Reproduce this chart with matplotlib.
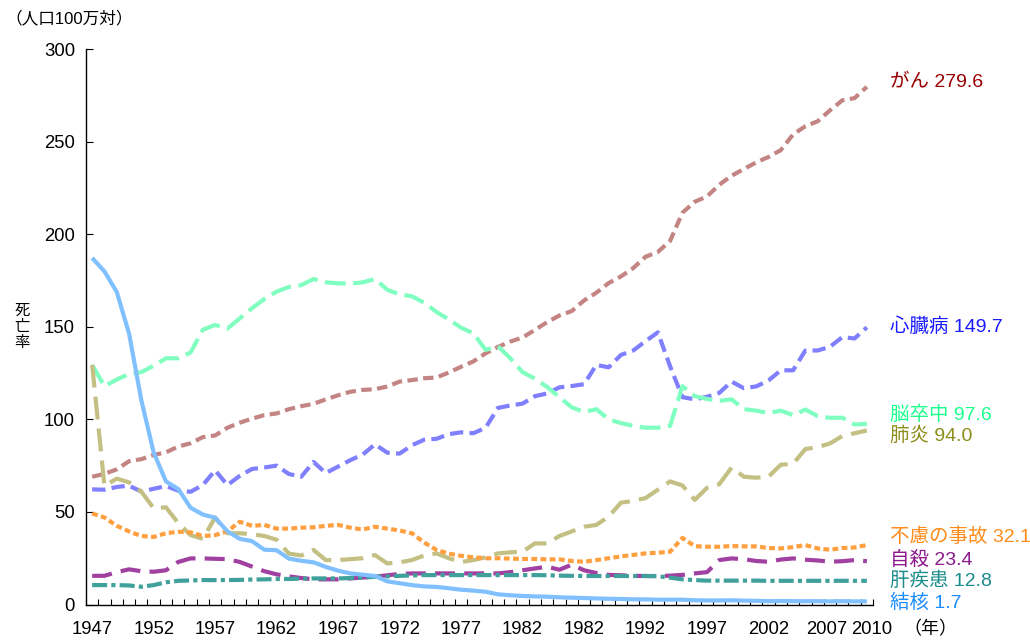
import matplotlib
matplotlib.use('Agg')
import matplotlib.pyplot as plt
from matplotlib.ticker import FixedLocator, MultipleLocator
from matplotlib.transforms import ScaledTranslation

plt.rcParams['font.family'] = ['Liberation Sans', 'Noto Sans CJK JP', 'DejaVu Sans']

years = list(range(1947, 2011))

# 死因別死亡率（人口100万対）
cancer = [69.0, 70.6, 73.0, 77.4, 78.5, 80.8, 82.2, 85.3, 87.1, 90.4,
          91.3, 95.5, 98.2, 100.4, 102.3, 103.2, 105.5, 107.1, 108.4, 110.8,
          113.0, 114.9, 115.9, 116.3, 117.7, 120.4, 121.2, 122.2, 122.6, 125.3,
          128.4, 131.3, 135.7, 139.1, 142.0, 144.2, 148.3, 152.5, 156.1, 158.5,
          164.2, 168.4, 173.6, 177.2, 181.7, 187.8, 190.4, 196.4, 211.6, 217.5,
          220.4, 226.7, 231.6, 235.2, 238.8, 241.7, 245.4, 253.9, 258.3, 261.0,
          266.9, 272.3, 273.5, 279.6]
heart = [62.2, 62.0, 63.5, 64.2, 61.0, 62.5, 64.0, 61.5, 60.9, 64.5,
         72.5, 64.5, 69.5, 73.2, 74.0, 75.0, 70.5, 69.0, 77.0, 71.0,
         74.5, 78.0, 81.0, 86.5, 82.0, 81.5, 86.0, 89.0, 89.5, 92.0,
         93.0, 92.5, 95.5, 106.2, 107.5, 108.5, 112.5, 114.0, 117.3, 118.0,
         119.0, 129.4, 128.1, 134.8, 137.2, 142.2, 147.0, 128.6, 112.0, 110.8,
         112.2, 114.3, 120.4, 116.8, 117.8, 121.0, 126.5, 126.5, 137.2, 137.2,
         139.2, 144.4, 143.7, 149.7]
stroke = [129.4, 117.9, 121.5, 124.5, 125.5, 129.0, 133.0, 133.0, 136.1, 148.4,
          151.0, 149.0, 154.5, 160.0, 165.0, 169.0, 171.5, 172.5, 175.8, 174.0,
          173.5, 173.3, 174.0, 175.8, 170.0, 167.5, 166.5, 163.0, 158.0, 154.0,
          149.5, 146.5, 137.5, 139.5, 133.0, 125.5, 122.0, 117.5, 112.0, 106.5,
          104.0, 105.5, 100.0, 98.0, 96.5, 95.5, 95.5, 96.5, 117.9, 112.6,
          111.0, 110.0, 110.8, 105.5, 104.7, 103.4, 104.7, 102.3, 105.3, 101.7,
          100.8, 100.9, 97.2, 97.6]
pneumonia = [129.5, 64.0, 68.0, 66.0, 61.0, 52.0, 52.5, 44.0, 37.5, 35.5,
             47.0, 38.5, 38.5, 38.0, 37.0, 35.0, 27.5, 26.5, 29.5, 24.0,
             24.0, 24.5, 25.0, 26.7, 22.2, 22.8, 24.0, 26.5, 27.6, 25.0,
             23.0, 24.0, 25.5, 27.6, 28.2, 28.5, 33.0, 33.0, 37.0, 39.5,
             42.0, 43.0, 47.5, 55.0, 56.0, 57.5, 62.0, 66.5, 64.3, 56.5,
             63.0, 65.0, 74.0, 69.0, 68.5, 69.0, 75.5, 76.0, 84.0, 85.0,
             87.0, 91.0, 92.5, 94.0]
accident = [49.2, 47.0, 42.5, 39.5, 37.0, 36.5, 38.5, 39.3, 39.0, 37.0,
            37.5, 39.5, 44.7, 42.5, 43.0, 41.0, 41.0, 41.5, 41.7, 42.5,
            43.0, 41.5, 40.5, 42.0, 41.0, 40.0, 38.5, 33.5, 29.5, 27.5,
            26.3, 25.5, 25.0, 25.0, 24.8, 24.6, 24.6, 24.4, 24.4, 23.5,
            23.1, 24.0, 25.0, 26.0, 26.8, 27.6, 28.0, 28.5, 36.0, 31.5,
            31.2, 31.2, 31.6, 31.4, 31.4, 30.5, 30.3, 31.0, 32.1, 30.3,
            29.6, 30.5, 30.8, 32.1]
suicide = [15.5, 15.5, 17.5, 19.0, 18.0, 17.7, 18.5, 23.0, 24.9, 24.9,
           24.7, 24.5, 23.0, 20.5, 18.0, 16.3, 15.2, 14.3, 13.6, 13.6,
           13.6, 14.1, 14.6, 15.0, 15.8, 16.5, 16.8, 16.8, 16.8, 16.8,
           16.8, 16.8, 16.8, 16.8, 17.5, 18.5, 19.5, 20.4, 18.8, 21.5,
           18.5, 17.0, 16.0, 15.8, 15.5, 15.4, 15.4, 15.6, 16.0, 16.8,
           17.5, 24.0, 24.9, 24.5, 23.5, 23.1, 24.3, 24.9, 24.2, 23.8,
           23.1, 23.4, 24.0, 23.4]
liver = [10.5, 10.5, 10.5, 10.3, 9.6, 10.5, 12.0, 12.8, 13.0, 13.2,
         13.2, 13.2, 13.3, 13.5, 13.6, 13.8, 13.8, 14.0, 14.1, 14.1,
         14.1, 14.3, 14.5, 15.0, 15.2, 15.5, 15.7, 15.9, 15.9, 15.9,
         15.9, 15.9, 15.9, 15.9, 15.9, 15.9, 15.9, 15.8, 15.6, 15.5,
         15.4, 15.4, 15.4, 15.4, 15.4, 15.4, 15.3, 14.5, 13.6, 13.2,
         12.9, 12.9, 12.9, 12.9, 12.9, 12.8, 12.8, 12.8, 12.8, 12.8,
         12.8, 12.8, 12.8, 12.8]
tb = [187.2, 179.9, 168.8, 146.4, 110.3, 82.2, 66.5, 62.4, 52.3, 48.6,
      46.9, 39.5, 35.5, 34.2, 29.6, 29.3, 24.8, 23.6, 22.8, 20.3,
      18.3, 16.8, 16.1, 15.4, 12.5, 11.5, 10.5, 9.8, 9.5, 8.8,
      8.0, 7.5, 6.9, 5.5, 5.0, 4.6, 4.4, 4.2, 3.9, 3.7,
      3.5, 3.3, 3.1, 3.0, 2.8, 2.8, 2.6, 2.6, 2.6, 2.3,
      2.2, 2.2, 2.3, 2.1, 2.0, 1.8, 1.9, 1.8, 1.8, 1.8,
      1.7, 1.8, 1.7, 1.7]

names = ['がん', '心臓病', '脳卒中', '肺炎', '不慮の事故', '自殺', '肝疾患', '結核']
end_values = ['279.6', '149.7', '97.6', '94.0', '32.1', '23.4', '12.8', '1.7']

# 1987の位置のラベルは元図どおり「1982」
tick_years = [1947, 1952, 1957, 1962, 1967, 1972, 1977, 1982, 1987, 1992, 1997, 2002, 2007, 2010]
tick_labels = ['1947', '1952', '1957', '1962', '1967', '1972', '1977', '1982', '1982', '1992',
               '1997', '2002', '2007', '2010']

series = [cancer, heart, stroke, pneumonia, accident, suicide, liver, tb]
line_colors = ['#c48484', '#8080ff', '#80ffc0', '#c4c084', '#ffa040', '#a040a0', '#40a09c', '#80c0ff']
text_colors = ['#990000', '#1a1aff', '#1aff8c', '#8c8c1a', '#ff8c1a', '#8c1a8c', '#1a8c8c', '#1a8cff']
dash_styles = [(2.5, 1.3), (3.2, 1.5), (5.0, 1.8), (5.5, 2.2), (1.4, 0.8), (4.8, 2.2),
               (3.6, 1.0, 1.0, 1.0), None]
label_y = [281.5, 149.8, 102.3, 91.0, 36.4, 24.0, 12.7, 0.8]

fig = plt.figure(figsize=(10.3, 6.41), dpi=100)
ax = fig.add_axes([0.0835, 0.0569, 0.7641, 0.8666])

for vals, c, ds in zip(series, line_colors, dash_styles):
    line, = ax.plot(years, vals, color=c, lw=3.0, solid_capstyle='butt', dash_capstyle='butt')
    if ds is not None:
        line.set_dashes(ds)

for name, v, tc, ly in zip(names, end_values, text_colors, label_y):
    ax.text(2011.9, ly, name + ' ' + v, color=tc, fontsize=14, va='center', ha='left',
            clip_on=False)

ax.set_xlim(1946.5, 2010.5)
ax.set_ylim(0, 300)
ax.spines['top'].set_visible(False)
ax.spines['right'].set_visible(False)
ax.spines['left'].set_linewidth(1.0)
ax.spines['bottom'].set_linewidth(1.0)

ax.set_xticks(tick_years)
ax.set_xticklabels(tick_labels)
ax.xaxis.set_minor_locator(FixedLocator([1946.5 + k for k in range(65)]))
ax.tick_params(axis='x', which='major', length=0, pad=12, labelsize=13.3)
ax.tick_params(axis='x', which='minor', direction='in', length=4, width=0.8)
ax.yaxis.set_major_locator(MultipleLocator(50))
ax.tick_params(axis='y', which='major', direction='in', length=5, width=0.8, pad=8, labelsize=13.3)

# 2007と2010のラベルが重ならないよう少しずらす
xlabels = ax.get_xticklabels()
xlabels[-2].set_transform(xlabels[-2].get_transform() + ScaledTranslation(-3 / 100, 0, fig.dpi_scale_trans))
xlabels[-1].set_transform(xlabels[-1].get_transform() + ScaledTranslation(5 / 100, 0, fig.dpi_scale_trans))

fig.text(0.005, 0.972, '（人口100万対）', fontsize=12, ha='left', va='center')
# 縦書きの「死亡率」
for k, ch in enumerate('死亡率'):
    fig.text(0.0214, 1 - (310 + 16 * k) / 641, ch, fontsize=11, ha='center', va='center',
             family=['Noto Sans CJK JP'])
fig.text(0.877, 0.017, '（年）', fontsize=13, ha='left', va='center')

fig.savefig('out.png', dpi=100)
